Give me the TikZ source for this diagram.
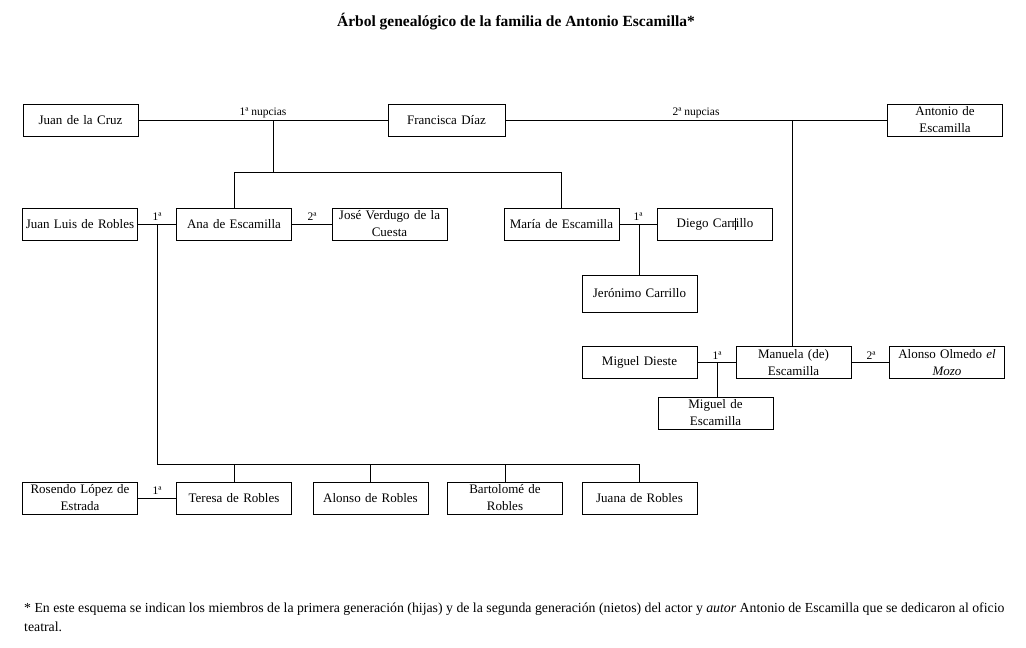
\documentclass[tikz,border=0pt]{standalone}
\usepackage{fontspec}
\setmainfont{Liberation Serif}
\usetikzlibrary{calc}
\begin{document}
\begin{tikzpicture}[x=1pt,y=-1pt,
  box/.style={draw, line width=1pt, minimum width=115pt, minimum height=32pt, inner xsep=1pt, inner ysep=0pt,
    align=center, text width=113pt, font=\fontsize{13}{17}\selectfont},
  link/.style={line width=1pt},
  lbl/.style={font=\fontsize{11.5}{13}\selectfont, inner sep=1pt, anchor=south}]
\fill[white] (0,0) rectangle (1026,648);
\useasboundingbox (0,0) rectangle (1026,648);

\node[font=\bfseries\fontsize{15.5}{18}\selectfont] (title) at (516,22) {Árbol genealógico de la familia de Antonio Escamilla*};

% generation 0
\node[box] (jc) at (80.5,120) {Juan de la Cruz};
\node[box, minimum width=117pt] (fd) at (446.5,120) {Francisca Díaz};
\node[box] (ae) at (945,120) {Antonio de\\Escamilla};

% generation 1
\node[box] (jl) at (80,224) {Juan Luis de Robles};
\node[box] (ana) at (234,224) {Ana de Escamilla};
\node[box] (jv) at (389.5,224) {José Verdugo de la\\Cuesta};
\node[box] (mar) at (561.5,224) {María de Escamilla};
\node[box] (dc) at (715,224) {Diego Carrillo};
\node[box, minimum height=37pt] (jer) at (639.5,293.5) {Jerónimo Carrillo};
\node[box] (md) at (639.5,362.5) {Miguel Dieste};
\node[box] (man) at (793.5,362.5) {Manuela (de)\\Escamilla};
\node[box] (ao) at (947,362.5) {Alonso Olmedo \textit{el}\\\textit{Mozo}};
\node[box] (mde) at (715.5,413) {Miguel de\\Escamilla};

% generation 2
\node[box] (ros) at (80,498) {Rosendo López de\\Estrada};
\node[box] (ter) at (234,498) {Teresa de Robles};
\node[box] (alo) at (370.5,498) {Alonso de Robles};
\node[box] (bar) at (505,498) {Bartolomé de\\Robles};
\node[box] (jua) at (639.5,498) {Juana de Robles};

% marriages of Francisca Díaz
\coordinate (n1) at (273,120);
\coordinate (n2) at (792,120);
\coordinate (b1) at (273,172);
\draw[link] (jc.east) -- (fd.west);
\draw[link] (fd.east) -- (ae.west);
\node[lbl] (l1) at (263,119) {1ª nupcias};
\node[lbl] (l2) at (696,119) {2ª nupcias};
\draw[link] (n1) -- (b1);
\draw[link] (ana.north) -- (ana.north |- b1) -- (mar.north |- b1) -- (mar.north);
\draw[link] (n2) -- (n2 |- man.north);

% Ana de Escamilla
\coordinate (j1) at (157,224);
\draw[link] (jl.east) -- (ana.west);
\node[lbl] (l3) at (157,222) {1ª};
\draw[link] (ana.east) -- (jv.west);
\node[lbl] (l4) at (312,222) {2ª};

% María de Escamilla
\coordinate (j2) at (638,224);
\draw[link] (mar.east) -- (dc.west);
\node[lbl] (l5) at (638,222) {1ª};
\draw[link] (jer.north) -- (jer.north |- j2);
\draw[link] ($(dc.center)+(20,-6)$) -- ++(0,12);

% Manuela
\coordinate (j3) at (717,362.5);
\draw[link] (md.east) -- (man.west);
\node[lbl] (l6) at (717,360.5) {1ª};
\draw[link] (j3) -- (j3 |- mde.north);
\draw[link] (man.east) -- (ao.west);
\node[lbl] (l7) at (871,360.5) {2ª};

% children of Ana
\coordinate (bus) at (157,464);
\draw[link] (j1) -- (bus) -- (jua.north |- bus) -- (jua.north);
\draw[link] (ter.north) -- (ter.north |- bus);
\draw[link] (alo.north) -- (alo.north |- bus);
\draw[link] (bar.north) -- (bar.north |- bus);
\draw[link] (ros.east) -- (ter.west);
\node[lbl] (l8) at (157,496) {1ª};

\node[anchor=north west, align=left, inner sep=0pt, font=\fontsize{13.8}{19}\selectfont] (note) at (24,603)
  {* En este esquema se indican los miembros de la primera generación (hijas) y de la segunda generación (nietos) del actor y \textit{autor} Antonio de Escamilla que se dedicaron al oficio\\teatral.};
\end{tikzpicture}
\end{document}
